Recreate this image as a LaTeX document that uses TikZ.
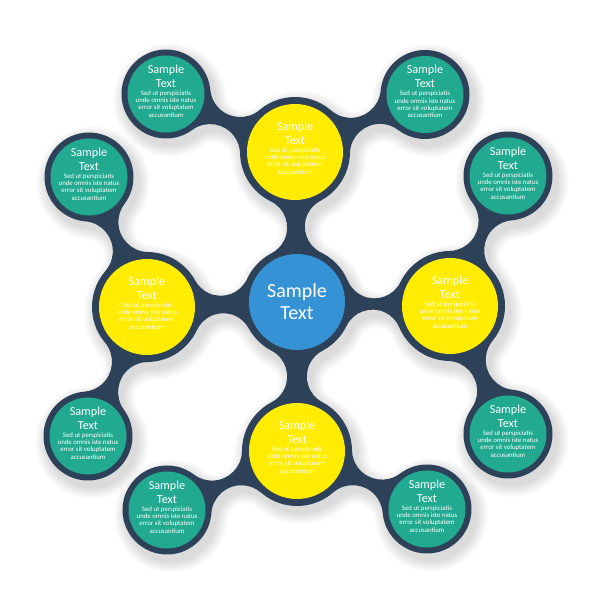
\documentclass[tikz,border=0pt]{standalone}
\usepackage{fontspec}
\setmainfont{Carlito}
\usetikzlibrary{calc}
\definecolor{ringcol}{HTML}{2D4259}
\definecolor{bluecol}{HTML}{3592D5}
\definecolor{yelcol}{HTML}{FFEC00}
\definecolor{grncol}{HTML}{21AA8F}

% neck (metaball connector) between two named circles: A B ra rb rf extra
\newcommand\addneck[6]{%
  \pgfpointdiff{\pgfpointanchor{#1}{center}}{\pgfpointanchor{#2}{center}}%
  \pgfgetlastxy{\nkdx}{\nkdy}%
  \pgfmathsetmacro\nkx{\nkdx/100}%
  \pgfmathsetmacro\nky{\nkdy/100}%
  \pgfmathsetmacro\nkd{veclen(\nkx,\nky)}%
  \pgfmathsetmacro\nkphi{atan2(\nky,\nkx)}%
  \pgfmathsetmacro\nka{(#3+#5)/100}%
  \pgfmathsetmacro\nkb{(#4+#5)/100}%
  \pgfmathsetmacro\nkal{acos((\nka*\nka+\nkd*\nkd-\nkb*\nkb)/(2*\nka*\nkd))}%
  \pgfmathsetmacro\nkbe{acos((\nkb*\nkb+\nkd*\nkd-\nka*\nka)/(2*\nkb*\nkd))}%
  \pgfmathsetmacro\nkA{\nkphi+\nkal}%
  \pgfmathsetmacro\nkB{\nkphi-\nkal}%
  \pgfmathsetmacro\nkD{\nkphi+180-\nkbe}%
  \pgfmathsetmacro\nkE{\nkphi+180-\nkal}%
  \pgfmathsetmacro\nkF{\nkphi+\nkbe}%
  \pgfmathsetmacro\nkG{\nkphi+360-\nkbe}%
  \pgfmathsetmacro\nkH{\nkphi+\nkal+180}%
  \pgfmathsetmacro\nkra{#3+#6}%
  \pgfmathsetmacro\nkrb{#4+#6}%
  \pgfmathsetmacro\nkrf{#5-#6}%
  \xdef\shapepath{\shapepath ($(#1)+(\nkA:\nkra pt)$) -- ($(#1)+(\nkB:\nkra pt)$)
    arc[start angle=\nkE, end angle=\nkF, radius=\nkrf pt]
    -- ($(#2)+(\nkD:\nkrb pt)$)
    arc[start angle=\nkG, end angle=\nkH, radius=\nkrf pt] -- cycle }%
}

\newcommand\buildshape[1]{%
  \gdef\shapepath{}%
  \foreach \p in {C,yT,yB,yL,yR}{\pgfmathsetmacro\rr{55+#1}\xdef\shapepath{\shapepath (\p) circle[radius=\rr pt] }}%
  \foreach \p in {gTL,gTR,gLT,gLB,gRT,gRB,gBL,gBR}{\pgfmathsetmacro\rr{44.5+#1}\xdef\shapepath{\shapepath (\p) circle[radius=\rr pt] }}%
  \addneck{C}{yT}{55}{55}{29}{#1}%
  \addneck{C}{yB}{55}{55}{29}{#1}%
  \addneck{C}{yL}{55}{55}{29}{#1}%
  \addneck{C}{yR}{55}{55}{29}{#1}%
  \addneck{yT}{gTL}{55}{44.5}{30}{#1}%
  \addneck{yT}{gTR}{55}{44.5}{30}{#1}%
  \addneck{yL}{gLT}{55}{44.5}{30}{#1}%
  \addneck{yL}{gLB}{55}{44.5}{30}{#1}%
  \addneck{yR}{gRT}{55}{44.5}{30}{#1}%
  \addneck{yR}{gRB}{55}{44.5}{30}{#1}%
  \addneck{yB}{gBL}{55}{44.5}{30}{#1}%
  \addneck{yB}{gBR}{55}{44.5}{30}{#1}%
}

\newcommand\circtext{\fontsize{12.2}{14}\selectfont Sample\\Text\par\vspace{0.6pt}\fontsize{6.8}{7.3}\selectfont Sed ut perspiciatis\\unde omnis iste natus\\error sit voluptatem\\accusantium\par}

\begin{document}
\begin{tikzpicture}[x=1pt,y=1pt,
  smalltext/.style={text=white, text width=70pt, align=flush center, inner sep=0pt},
  bigtext/.style={text=white, align=flush center, inner sep=0pt, font=\fontsize{20}{22}\selectfont}]
\fill[white] (0,0) rectangle (600,600);
\useasboundingbox (0,0) rectangle (600,600);

\coordinate (C) at (297,298);
\coordinate (yT) at (295,448);
\coordinate (yB) at (297,149);
\coordinate (yL) at (147,293);
\coordinate (yR) at (450,294);
\coordinate (gTL) at (166,506);
\coordinate (gTR) at (425,505.5);
\coordinate (gLT) at (89,423);
\coordinate (gLB) at (88,164);
\coordinate (gRT) at (508,424);
\coordinate (gRB) at (508,166);
\coordinate (gBL) at (167,90);
\coordinate (gBR) at (427,91);

% soft shadow
\foreach \e in {12,10,8,6,4,2}{%
  \buildshape{\e}%
  \begin{scope}[transform canvas={shift={(4pt,-6pt)}}]
    \fill[black,opacity=0.024] \shapepath;
  \end{scope}
}

% dark frame with necks
\buildshape{0}
\fill[ringcol] \shapepath;

% inner disks
\fill[bluecol] (C) circle[radius=48pt];
\foreach \p in {yT,yB,yL,yR}{\fill[yelcol] (\p) circle[radius=48pt];}
\foreach \p in {gTL,gTR,gLT,gLB,gRT,gRB,gBL,gBR}{\fill[grncol] (\p) circle[radius=38.5pt];}

% texts
\node[bigtext] (Ct) at (C) {Sample\\Text};
\node[smalltext] (yTt) at ([yshift=4pt]yT) {\circtext};
\node[smalltext] (yBt) at ([yshift=4pt]yB) {\circtext};
\node[smalltext] (yLt) at ([yshift=4pt]yL) {\circtext};
\node[smalltext] (yRt) at ([yshift=4pt]yR) {\circtext};
\node[smalltext] (gTLt) at ([yshift=3pt]gTL) {\circtext};
\node[smalltext] (gTRt) at ([yshift=3pt]gTR) {\circtext};
\node[smalltext] (gLTt) at ([yshift=3pt]gLT) {\circtext};
\node[smalltext] (gLBt) at ([yshift=3pt]gLB) {\circtext};
\node[smalltext] (gRTt) at ([yshift=3pt]gRT) {\circtext};
\node[smalltext] (gRBt) at ([yshift=3pt]gRB) {\circtext};
\node[smalltext] (gBLt) at ([yshift=3pt]gBL) {\circtext};
\node[smalltext] (gBRt) at ([yshift=3pt]gBR) {\circtext};
\end{tikzpicture}
\end{document}
